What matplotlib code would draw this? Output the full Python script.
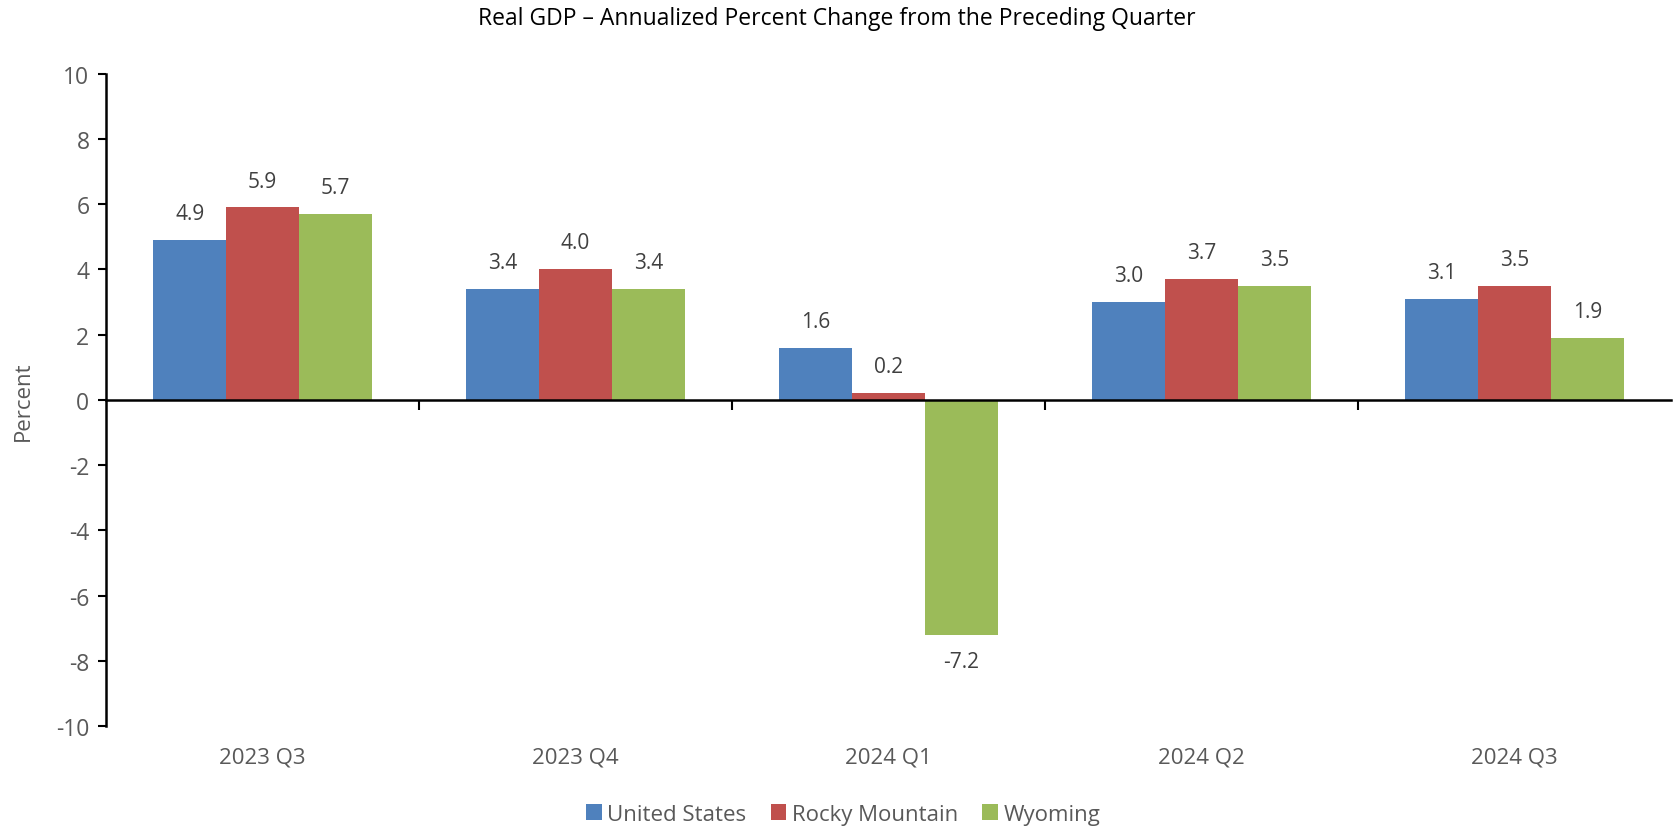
import numpy as np
import matplotlib
matplotlib.use("Agg")
import matplotlib.pyplot as plt
from matplotlib.patches import Patch
from matplotlib.transforms import blended_transform_factory

plt.rcParams["font.family"] = ["Open Sans", "DejaVu Sans"]
plt.rcParams["axes.unicode_minus"] = False

# data
quarters = ["2023 Q3", "2023 Q4", "2024 Q1", "2024 Q2", "2024 Q3"]
series_names = ["United States", "Rocky Mountain", "Wyoming"]
united_states = [4.9, 3.4, 1.6, 3.0, 3.1]
rocky_mountain = [5.9, 4.0, 0.2, 3.7, 3.5]
wyoming = [5.7, 3.4, -7.2, 3.5, 1.9]
colors = ["#4F81BD", "#C0504D", "#9BBB59"]

grey = "#595959"
label_grey = "#404040"

fig = plt.figure(figsize=(16.73, 8.28), dpi=100)
ax = fig.add_axes([0.0634, 0.122, 0.9354, 0.7878])

x = np.arange(len(quarters))
width = 0.233
for i, (vals, col) in enumerate(zip([united_states, rocky_mountain, wyoming], colors)):
    pos = x + (i - 1) * width
    ax.bar(pos, vals, width=width, color=col, edgecolor="none", zorder=2)
    for px, v in zip(pos, vals):
        off = 19 if v >= 0 else -19
        ax.annotate(f"{v:.1f}", (px, v), xytext=(0, off), textcoords="offset points",
                    ha="center", va="center", fontsize=15, color=label_grey)

ax.set_xlim(-0.5, len(quarters) - 0.5)
ax.set_ylim(-10, 10)
ax.set_yticks(np.arange(-10, 11, 2))
ax.tick_params(axis="y", direction="out", length=6, width=1.5, colors="black",
               labelcolor=grey, labelsize=16.5, pad=6)

# x axis drawn at zero, with ticks between the groups
ax.spines["bottom"].set_position(("data", 0))
ax.spines["top"].set_visible(False)
ax.spines["right"].set_visible(False)
for s in ["left", "bottom"]:
    ax.spines[s].set_linewidth(1.8)
ax.set_xticks(np.arange(0.5, len(quarters) - 0.5, 1))
ax.set_xticklabels([])
ax.tick_params(axis="x", direction="out", length=7, width=1.5)

trans = blended_transform_factory(ax.transData, ax.transAxes)
for xi, q in zip(x, quarters):
    ax.text(xi, -0.048, q, transform=trans, ha="center", va="center",
            fontsize=16, color=grey)

ax.set_ylabel("Percent", fontsize=16, color=grey)
ax.yaxis.set_label_coords(-0.046, 0.5)

fig.suptitle("Real GDP \u2013 Annualized Percent Change from the Preceding Quarter",
             y=0.977, va="center", fontsize=16.5, color="black")

handles = [Patch(facecolor=c, edgecolor="none") for c in colors]
fig.legend(handles, series_names, loc="center", bbox_to_anchor=(0.504, 0.0155),
           ncol=3, frameon=False, fontsize=16, labelcolor=grey,
           handlelength=0.7, handleheight=0.7, handletextpad=0.25, columnspacing=1.1)

fig.savefig("out.png", dpi=100)
